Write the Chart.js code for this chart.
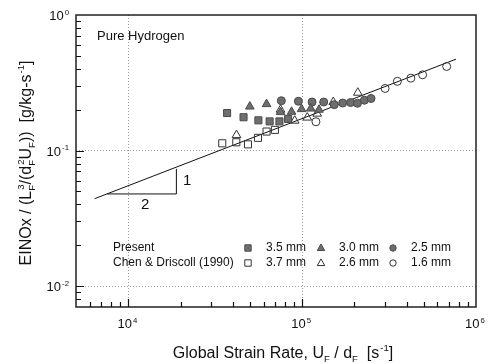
<!DOCTYPE html>
<html>
<head>
<meta charset="utf-8">
<script src="https://cdn.jsdelivr.net/npm/chart.js@4.4.0/dist/chart.umd.min.js"></script>
<style>
  body { margin: 0; background: #fff; }
  canvas { display: block; }
</style>
</head>
<body>
<canvas id="chart" width="490" height="364"></canvas>
<script>
// present data (filled markers)
const sq35X = [37000, 46000, 56000, 65000, 74000, 83000];
const sq35Y = [0.189, 0.176, 0.167, 0.164, 0.164, 0.171];
const tri30X = [50000, 62400, 75100, 86900, 99300, 112000, 125000];
const tri30Y = [0.211, 0.220, 0.192, 0.193, 0.202, 0.204, 0.200];
const circ25X = [75900, 95100, 114000, 133000, 153000, 171000, 190000, 208000, 228000, 249000];
const circ25Y = [0.233, 0.231, 0.228, 0.228, 0.218, 0.224, 0.226, 0.223, 0.235, 0.242];

// Chen & Driscoll (1990) (open markers)
const sq37X = [34700, 41800, 48800, 55700, 62400, 69700];
const sq37Y = [0.113, 0.115, 0.111, 0.124, 0.138, 0.142];
const tri26X = [41900, 75100, 90600, 107000, 122000, 151000, 209000];
const tri26Y = [0.130, 0.200, 0.166, 0.175, 0.187, 0.228, 0.267];
const circ16X = [120000, 300000, 353000, 422000, 493000, 678000];
const circ16Y = [0.163, 0.287, 0.324, 0.342, 0.362, 0.417];

// slope 1/2 fit line and slope triangle
const fitX = [6400, 767000];
const fitY = [0.0441, 0.472];
const slopeX = [7570, 18900, 18900];
const slopeY = [0.0478, 0.0478, 0.0733];
const slopeLabels = ['1', '2'];
const slopeLabelX = [21800, 12500];
const slopeLabelY = [0.0601, 0.0394];

const xDecades = [1e4, 1e5, 1e6];
const yDecades = [1e-2, 1e-1, 1e0];
const legendRows = ['Present', 'Chen & Driscoll (1990)'];
const legendSizes = [['3.5 mm', '3.0 mm', '2.5 mm'], ['3.7 mm', '2.6 mm', '1.6 mm']];

const FONT = '"Liberation Sans", Arial, sans-serif';
const FILL = '#6e6e6e';
const EDGE = '#4a4a4a';
const OPEN = '#333';

function pts(xs, ys) {
  return xs.map((x, i) => ({ x: x, y: ys[i] }));
}

function markerSet(label, xs, ys, style, filled, r) {
  return {
    label: label,
    data: pts(xs, ys),
    pointStyle: style,
    pointRadius: r,
    pointBackgroundColor: filled ? FILL : 'rgba(0,0,0,0)',
    pointBorderColor: filled ? EDGE : OPEN,
    pointBorderWidth: 1,
    showLine: false
  };
}

// draw text made of normal / sub / sup / stacked sub+sup parts
function richWidth(ctx, parts, size) {
  let w = 0;
  for (const p of parts) {
    if (p.t) { ctx.font = size + 'px ' + FONT; w += ctx.measureText(p.t).width; }
    ctx.font = (size * 0.6) + 'px ' + FONT;
    const a = p.sub ? ctx.measureText(p.sub).width : 0;
    const b = p.sup ? ctx.measureText(p.sup).width + 1 : 0;
    w += Math.max(a, b);
  }
  return w;
}

function drawRich(ctx, parts, x, y, size, align) {
  let w = richWidth(ctx, parts, size);
  let cx = x;
  if (align === 'center') cx = x - w / 2;
  if (align === 'right') cx = x - w;
  ctx.textBaseline = 'alphabetic';
  ctx.textAlign = 'left';
  for (const p of parts) {
    if (p.t) {
      ctx.font = size + 'px ' + FONT;
      ctx.fillText(p.t, cx, y);
      cx += ctx.measureText(p.t).width;
    }
    ctx.font = (size * 0.6) + 'px ' + FONT;
    let a = 0, b = 0;
    if (p.sub) { ctx.fillText(p.sub, cx, y + size * 0.22); a = ctx.measureText(p.sub).width; }
    if (p.sup) { ctx.fillText(p.sup, cx + 1, y - size * 0.42); b = ctx.measureText(p.sup).width + 1; }
    cx += Math.max(a, b);
  }
}

function drawMarker(ctx, style, filled, x, y, s) {
  ctx.beginPath();
  if (style === 'rect') {
    ctx.rect(x - s, y - s, 2 * s, 2 * s);
  } else if (style === 'triangle') {
    ctx.moveTo(x, y - s * 1.2);
    ctx.lineTo(x + s * 1.1, y + s * 0.75);
    ctx.lineTo(x - s * 1.1, y + s * 0.75);
    ctx.closePath();
  } else {
    ctx.arc(x, y, s, 0, Math.PI * 2);
  }
  ctx.lineWidth = 1;
  if (filled) { ctx.fillStyle = FILL; ctx.fill(); ctx.strokeStyle = EDGE; }
  else { ctx.strokeStyle = OPEN; }
  ctx.stroke();
}

const decor = {
  id: 'decor',
  afterDraw(chart) {
    const ctx = chart.ctx;
    const a = chart.chartArea;
    const xs = chart.scales.x;
    const ys = chart.scales.y;
    ctx.save();

    // frame
    ctx.lineWidth = 1.5;
    ctx.strokeStyle = '#222';
    ctx.strokeRect(a.left, a.top, a.right - a.left, a.bottom - a.top);

    // inner ticks
    ctx.lineWidth = 1.2;
    ctx.strokeStyle = '#111';
    ctx.beginPath();
    for (let e = 3; e <= 5; e++) {
      for (let m = 1; m <= 9; m++) {
        const v = m * Math.pow(10, e);
        if (v <= xs.min || v >= xs.max) continue;
        const px = Math.round(xs.getPixelForValue(v)) + 0.5;
        const len = m === 1 ? 8 : 5;
        ctx.moveTo(px, a.bottom);
        ctx.lineTo(px, a.bottom - len);
      }
    }
    for (let e = -3; e <= -1; e++) {
      for (let m = 1; m <= 9; m++) {
        const v = m * Math.pow(10, e);
        if (v <= ys.min || v >= ys.max) continue;
        const py = Math.round(ys.getPixelForValue(v)) + 0.5;
        const len = m === 1 ? 8 : 5;
        ctx.moveTo(a.left, py);
        ctx.lineTo(a.left + len, py);
      }
    }
    ctx.stroke();

    // tick labels
    ctx.fillStyle = '#111';
    for (const v of xDecades) {
      const px = xs.getPixelForValue(v);
      drawRich(ctx, [{ t: '10', sup: String(Math.round(Math.log10(v))) }], px - 1, 328, 13, 'center');
    }
    for (const v of yDecades) {
      const py = ys.getPixelForValue(v);
      drawRich(ctx, [{ t: '10', sup: String(Math.round(Math.log10(v))) }], 69, py + 5, 13, 'right');
    }

    // axis titles
    drawRich(ctx, [
      { t: 'Global Strain Rate, U', sub: 'F' },
      { t: ' / d', sub: 'F' },
      { t: '  [s', sup: '-1' },
      { t: ']' }
    ], 283, 358, 16, 'center');
    ctx.save();
    ctx.translate(31, 163);
    ctx.rotate(-Math.PI / 2);
    drawRich(ctx, [
      { t: 'EINOx / (L', sub: 'F', sup: '3' },
      { t: '/(d', sub: 'F', sup: '2' },
      { t: 'U', sub: 'F' },
      { t: '))  [g/kg-s', sup: '-1' },
      { t: ']' }
    ], 0, 0, 16, 'center');
    ctx.restore();

    // panel label
    ctx.font = '13px ' + FONT;
    ctx.textAlign = 'left';
    ctx.textBaseline = 'middle';
    ctx.fillText('Pure Hydrogen', 97, 36);

    // slope labels
    ctx.font = '15px ' + FONT;
    ctx.textAlign = 'center';
    slopeLabels.forEach((t, i) => {
      ctx.fillText(t, xs.getPixelForValue(slopeLabelX[i]), ys.getPixelForValue(slopeLabelY[i]));
    });

    // legend
    const styles = ['rect', 'triangle', 'circle'];
    const sizes = [3.2, 3.4, 3.2];
    const rowY = [248, 263];
    const markX = [248, 321, 393];
    ctx.font = '12px ' + FONT;
    legendRows.forEach((row, r) => {
      ctx.fillStyle = '#111';
      ctx.textAlign = 'left';
      ctx.textBaseline = 'middle';
      ctx.fillText(row, 113, rowY[r]);
      legendSizes[r].forEach((lab, k) => {
        drawMarker(ctx, styles[k], r === 0, markX[k], rowY[r], sizes[k]);
        ctx.fillStyle = '#111';
        ctx.fillText(lab, markX[k] + 18, rowY[r]);
      });
    });
    ctx.restore();
  }
};

function decadeTicks(list) {
  return function (scale) {
    scale.ticks = list.map(v => ({ value: v }));
  };
}

new Chart(document.getElementById('chart'), {
  type: 'scatter',
  data: {
    datasets: [
      markerSet('3.5 mm', sq35X, sq35Y, 'rect', true, 5),
      markerSet('3.0 mm', tri30X, tri30Y, 'triangle', true, 5),
      markerSet('2.5 mm', circ25X, circ25Y, 'circle', true, 4),
      markerSet('3.7 mm', sq37X, sq37Y, 'rect', false, 5),
      markerSet('2.6 mm', tri26X, tri26Y, 'triangle', false, 5),
      markerSet('1.6 mm', circ16X, circ16Y, 'circle', false, 4),
      {
        label: 'fit',
        data: pts(fitX, fitY),
        showLine: true,
        borderColor: '#111',
        borderWidth: 1,
        pointRadius: 0
      },
      {
        label: 'slope',
        data: pts(slopeX, slopeY),
        showLine: true,
        borderColor: '#111',
        borderWidth: 1,
        pointRadius: 0
      }
    ]
  },
  options: {
    responsive: false,
    animation: false,
    devicePixelRatio: 1,
    layout: { padding: { left: 76, top: 15, right: 14, bottom: 57 } },
    plugins: { legend: { display: false }, tooltip: { enabled: false } },
    scales: {
      x: {
        type: 'logarithmic',
        min: 5000,
        max: 1e6,
        afterBuildTicks: decadeTicks([1e4, 1e5]),
        ticks: { display: false },
        grid: { color: '#9a9a9a', lineWidth: 1, drawTicks: false },
        border: { display: false, dash: [1, 2] }
      },
      y: {
        type: 'logarithmic',
        min: 0.007,
        max: 1,
        afterBuildTicks: decadeTicks([0.01, 0.1]),
        ticks: { display: false },
        grid: { color: '#9a9a9a', lineWidth: 1, drawTicks: false },
        border: { display: false, dash: [1, 2] }
      }
    }
  },
  plugins: [decor]
});
</script>
</body>
</html>
